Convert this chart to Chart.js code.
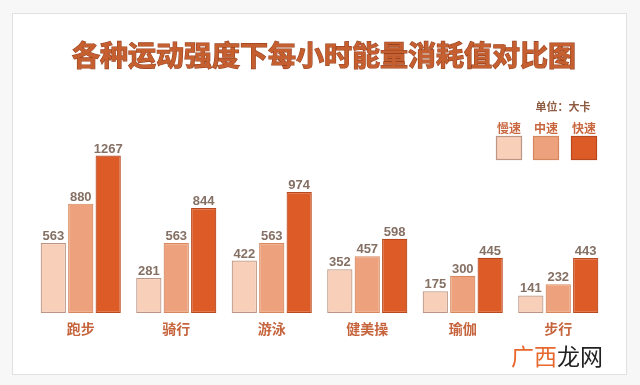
<!DOCTYPE html>
<html>
<head>
<meta charset="utf-8">
<script src="https://cdn.jsdelivr.net/npm/chart.js@4.4.1/dist/chart.umd.min.js"></script>
<style>
  html, body { margin: 0; padding: 0; background: #ffffff; }
  canvas { display: block; }
</style>
</head>
<body>
<canvas id="c" width="640" height="385"></canvas>
<script>
const titleText = '各种运动强度下每小时能量消耗值对比图';
const unitLabel = '单位：大卡';
const categories = ['跑步', '骑行', '游泳', '健美操', '瑜伽', '步行'];
const seriesNames = ['慢速', '中速', '快速'];
const slowValues = [563, 281, 422, 352, 175, 141];
const midValues = [880, 563, 563, 457, 300, 232];
const fastValues = [1267, 844, 974, 598, 445, 443];
const watermarkParts = ['广西', '龙网'];

const fills = ['#F8D0B9', '#EDA27D', '#DC5B27'];
const borders = ['#BC9584', '#D68760', '#B9481E'];
const CJK = '"Noto Sans CJK SC", "Noto Sans", sans-serif';

const decorPlugin = {
  id: 'decor',
  beforeDraw(chart) {
    const ctx = chart.ctx;
    ctx.save();
    ctx.fillStyle = '#f7f7f7';
    ctx.fillRect(0, 0, chart.width, chart.height);
    ctx.fillStyle = '#ffffff';
    ctx.fillRect(12, 13, 615, 362);
    ctx.strokeStyle = '#e1e1e1';
    ctx.lineWidth = 1;
    ctx.strokeRect(12.5, 13.5, 614, 361);

    // title
    ctx.font = 'bold 28px ' + CJK;
    ctx.textAlign = 'center';
    ctx.textBaseline = 'middle';
    ctx.lineWidth = 1.2;
    ctx.strokeStyle = '#9A4320';
    ctx.strokeText(titleText, 324, 55);
    ctx.fillStyle = '#C65F2F';
    ctx.fillText(titleText, 324, 55);

    // unit
    ctx.font = 'bold 11px ' + CJK;
    ctx.fillStyle = '#8E5A40';
    ctx.fillText(unitLabel, 563, 107);

    // legend
    const boxX = [496, 533, 571];
    seriesNames.forEach((name, i) => {
      ctx.font = 'bold 12px ' + CJK;
      ctx.fillStyle = '#C8673F';
      ctx.fillText(name, boxX[i] + 13, 128);
      ctx.fillStyle = fills[i];
      ctx.fillRect(boxX[i], 136, 26, 24);
      ctx.strokeStyle = borders[i];
      ctx.lineWidth = 1.2;
      ctx.strokeRect(boxX[i] + 0.5, 136.5, 25, 23);
    });

    // watermark
    ctx.font = '23px ' + CJK;
    ctx.textAlign = 'left';
    const w1 = ctx.measureText(watermarkParts[0]).width;
    ctx.fillStyle = '#E8672C';
    ctx.fillText(watermarkParts[0], 511, 356);
    ctx.fillStyle = '#222222';
    ctx.fillText(watermarkParts[1], 511 + w1, 356);
    ctx.restore();
  },
  afterDatasetsDraw(chart) {
    const ctx = chart.ctx;
    ctx.save();
    ctx.textAlign = 'center';
    ctx.textBaseline = 'alphabetic';
    ctx.font = 'bold 13px "Liberation Sans", Arial, sans-serif';
    ctx.fillStyle = '#857064';
    chart.data.datasets.forEach((ds, di) => {
      const meta = chart.getDatasetMeta(di);
      meta.data.forEach((bar, i) => {
        ctx.fillText(String(ds.data[i]), bar.x, bar.y - 3);
      });
    });
    const xs = chart.scales.x;
    ctx.font = 'bold 14px ' + CJK;
    ctx.fillStyle = '#C6643D';
    ctx.textBaseline = 'middle';
    categories.forEach((c, i) => {
      ctx.fillText(c, xs.getPixelForValue(i), 329);
    });
    ctx.restore();
  }
};

const datasetValues = [slowValues, midValues, fastValues];

new Chart(document.getElementById('c'), {
  type: 'bar',
  data: {
    labels: categories,
    datasets: seriesNames.map((name, i) => ({
      label: name,
      data: datasetValues[i],
      backgroundColor: fills[i],
      borderColor: borders[i],
      borderWidth: 1.2,
      borderSkipped: false,
      categoryPercentage: 0.862,
      barPercentage: 0.92
    }))
  },
  options: {
    responsive: false,
    animation: false,
    devicePixelRatio: 1,
    layout: { padding: { left: 33, right: 34, top: 139, bottom: 72 } },
    plugins: { legend: { display: false }, title: { display: false }, tooltip: { enabled: false } },
    scales: {
      x: { display: false },
      y: { display: false, min: 0, max: 1400 }
    }
  },
  plugins: [decorPlugin]
});
</script>
</body>
</html>
